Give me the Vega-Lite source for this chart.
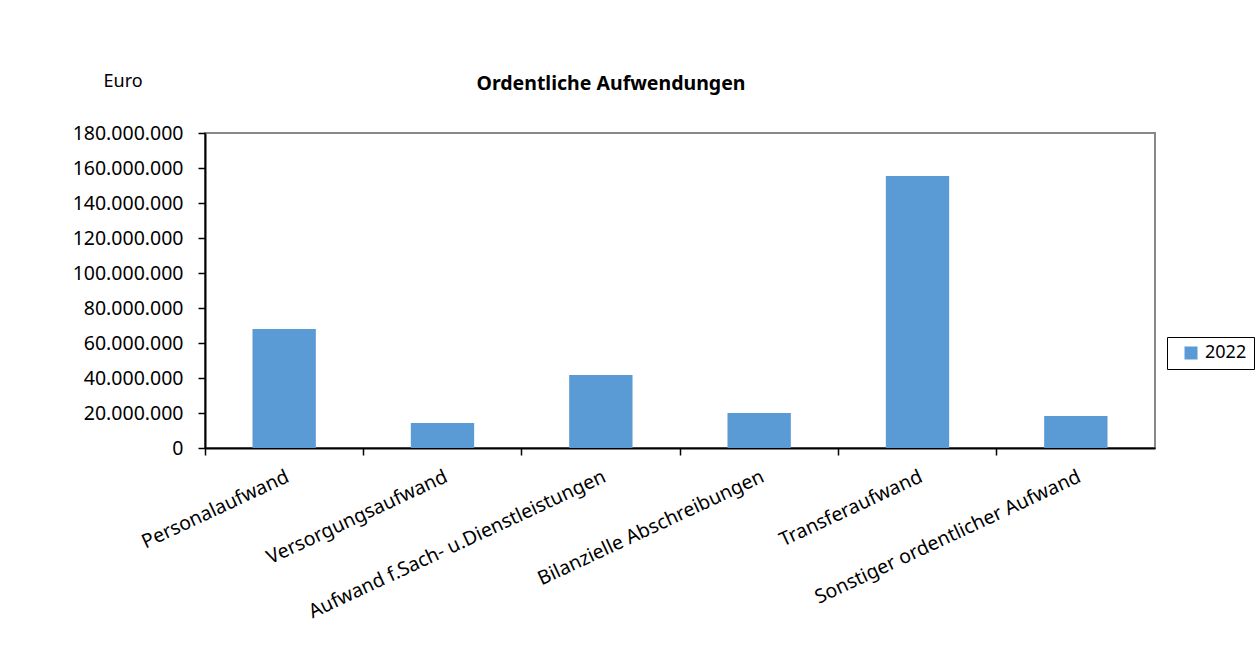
{
  "$schema": "https://vega.github.io/schema/vega-lite/v6.json",
  "autosize": {"type": "none"},
  "width": 950,
  "height": 315,
  "padding": {"left": 205, "top": 133, "right": 103, "bottom": 203},
  "background": "white",
  "title": {
    "text": "Ordentliche Aufwendungen",
    "font": "Noto Sans",
    "fontSize": 19.5,
    "fontWeight": "bold",
    "color": "#000",
    "anchor": "middle",
    "dx": -69,
    "offset": -22
  },
  "data": {
    "values": [
      {"kategorie": "Personalaufwand", "jahr": "2022", "betrag": 68000000},
      {"kategorie": "Versorgungsaufwand", "jahr": "2022", "betrag": 14300000},
      {"kategorie": "Aufwand f.Sach- u.Dienstleistungen", "jahr": "2022", "betrag": 41700000},
      {"kategorie": "Bilanzielle Abschreibungen", "jahr": "2022", "betrag": 20000000},
      {"kategorie": "Transferaufwand", "jahr": "2022", "betrag": 155400000},
      {"kategorie": "Sonstiger ordentlicher Aufwand", "jahr": "2022", "betrag": 18300000}
    ]
  },
  "mark": {"type": "bar", "width": {"band": 0.4}},
  "encoding": {
    "x": {
      "field": "kategorie",
      "type": "nominal",
      "sort": null,
      "scale": {"paddingInner": 0, "paddingOuter": 0},
      "axis": {
        "title": null,
        "bandPosition": 0,
        "labelAngle": -25,
        "labelAlign": "right",
        "labelBaseline": "top",
        "labelPadding": 12,
        "labelFont": "Noto Sans",
        "labelFontSize": 19.5,
        "labelColor": "#000",
        "labelLimit": 0,
        "tickSize": 7,
        "tickColor": "#000",
        "tickWidth": 1.5,
        "domainColor": "#000",
        "domainWidth": 2
      }
    },
    "y": {
      "field": "betrag",
      "type": "quantitative",
      "scale": {"domain": [0, 180000000], "nice": false},
      "axis": {
        "title": "Euro",
        "titleAngle": 0,
        "titleAlign": "left",
        "titleBaseline": "alphabetic",
        "titleX": -102,
        "titleY": -47,
        "titleFont": "Noto Sans",
        "titleFontSize": 18,
        "titleFontWeight": "normal",
        "titleColor": "#000",
        "values": [0, 20000000, 40000000, 60000000, 80000000, 100000000, 120000000, 140000000, 160000000, 180000000],
        "format": ",d",
        "grid": false,
        "labelFont": "Noto Sans",
        "labelFontSize": 19.5,
        "labelColor": "#000",
        "labelPadding": 15,
        "tickSize": 7,
        "tickColor": "#000",
        "tickWidth": 1.5,
        "domainColor": "#000",
        "domainWidth": 2
      }
    },
    "color": {
      "field": "jahr",
      "type": "nominal",
      "scale": {"domain": ["2022"], "range": ["#5B9BD5"]},
      "legend": {
        "title": null,
        "orient": "none",
        "legendX": 962,
        "legendY": 204,
        "strokeColor": "#000",
        "padding": 7,
        "symbolType": "square",
        "symbolSize": 169,
        "symbolStrokeWidth": 0,
        "symbolOffset": 8,
        "labelFont": "Noto Sans",
        "labelFontSize": 18,
        "labelColor": "#000",
        "labelOffset": 5
      }
    }
  },
  "config": {
    "locale": {"number": {"decimal": ",", "thousands": ".", "grouping": [3], "currency": ["", " €"]}},
    "view": {"stroke": "#888888", "strokeWidth": 2}
  }
}
